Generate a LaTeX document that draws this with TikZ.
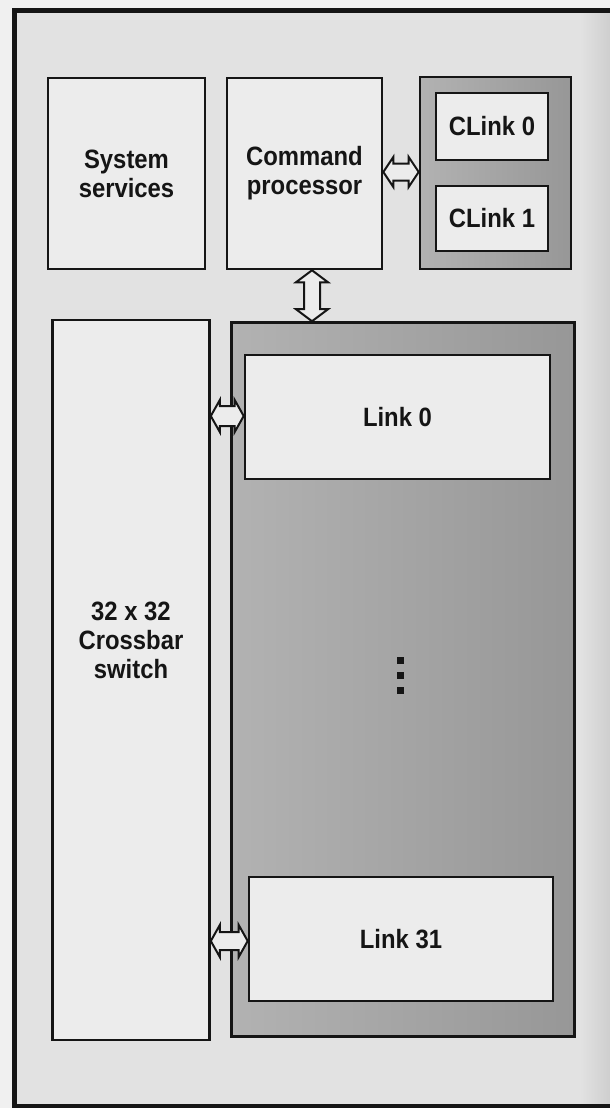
\documentclass[tikz,border=0pt]{standalone}
\usepackage{fontspec}
\setmainfont{Liberation Sans}
\newfontfamily\labfont{Liberation Sans}[FakeStretch=0.9, UprightFont=*-Bold]
\usetikzlibrary{calc}
\definecolor{paper}{HTML}{F0F0F0}
\definecolor{bgc}{HTML}{E2E2E2}
\definecolor{boxc}{HTML}{ECECEC}
\definecolor{shl}{HTML}{B2B2B2}
\definecolor{shr}{HTML}{979797}
\definecolor{ink}{HTML}{151515}
\tikzset{
  blk/.style={draw=ink, line width=2.6pt, fill=boxc, inner sep=0pt, text=ink,
    align=center, font=\labfont\fontsize{26.5}{29}\selectfont},
  grp/.style={draw=ink, line width=2.6pt, left color=shl, right color=shr, inner sep=0pt},
  txt/.style={inner sep=0pt, text=ink, align=center, font=\labfont\fontsize{26.5}{29}\selectfont},
  arr/.style={draw=ink, line width=2pt, fill=boxc, line join=miter},
  dotsq/.style={fill=ink, inner sep=0pt, minimum size=7pt}
}
% horizontal hollow double arrow: from, to, y-coordinate name, half shaft, half head, head length
\newcommand\harrow[6]{%
  \draw[arr] (#1.east |- #3) -- ++(#6,-#5) -- ++(0,{#5-#4})
    -- ($(#2.west |- #3)+(-#6,-#4)$) -- ++(0,{#4-#5}) -- (#2.west |- #3)
    -- ++(-#6,#5) -- ++(0,{#4-#5}) -- ($(#1.east |- #3)+(#6,#4)$)
    -- ++(0,{#5-#4}) -- cycle;}
% vertical hollow double arrow: from (top), to (bottom), x-coordinate name, half shaft, half head, head length
\newcommand\varrow[6]{%
  \draw[arr] (#1.south -| #3) -- ++(-#5,#6) -- ++({#5-#4},0)
    -- ($(#2.north -| #3)+(-#4,-#6)$) -- ++({#4-#5},0) -- (#2.north -| #3)
    -- ++(#5,-#6) -- ++({#4-#5},0) -- ($(#1.south -| #3)+(#4,#6)$)
    -- ++({#5-#4},0) -- cycle;}
\begin{document}
\begin{tikzpicture}[x=1pt,y=-1pt]
\useasboundingbox (0,0) rectangle (610,1108);
% paper and frame
\fill[paper] (0,0) rectangle (610,1108);
\fill[bgc] (14,11) rectangle (610,1106);
\shade[left color=bgc, right color=gray!38] (580,13) rectangle (610,1104);
\draw[ink, line width=5pt] (612,11) -- (14,11) -- (14,1106) -- (612,1106);

% top row
\node[blk, minimum width=157pt, minimum height=191pt] (sys) at (126.5,173.5) {System\\services};
\node[blk, minimum width=155pt, minimum height=191pt] (cmd) at (304.5,173.5) {Command\\processor};
\node[grp, minimum width=151pt, minimum height=192pt] (clbox) at (495.5,173) {};
\node[blk, minimum width=112pt, minimum height=67pt] (cl0) at (492,126.5) {CLink 0};
\node[blk, minimum width=112pt, minimum height=65pt] (cl1) at (492,218.5) {CLink 1};

% crossbar
\node[blk, minimum width=157pt, minimum height=720pt] (xbar) at (131,680) {};
\node[txt] (xlab) at (131,640) {32 x 32\\Crossbar\\switch};

% links group
\node[grp, minimum width=343pt, minimum height=714pt] (lkbox) at (403,679.5) {};
\node[blk, minimum width=305pt, minimum height=124pt] (l0) at (397.5,417) {Link 0};
\node[blk, minimum width=304pt, minimum height=124pt] (l31) at (401,939) {Link 31};
\node[dotsq] (d1) at (400,660) {};
\node[dotsq] (d2) at (400,675) {};
\node[dotsq] (d3) at (400,690) {};

% connectors
\coordinate (ya) at (0,172);
\coordinate (xa) at (312,0);
\coordinate (yb) at (0,416);
\coordinate (yc) at (0,941);
\harrow{cmd}{clbox}{ya}{8.5}{15}{10}
\varrow{cmd}{lkbox}{xa}{8}{16}{12}
\harrow{xbar}{l0}{yb}{10}{16}{9}
\harrow{xbar}{l31}{yc}{9}{16}{9}
\end{tikzpicture}
\end{document}
